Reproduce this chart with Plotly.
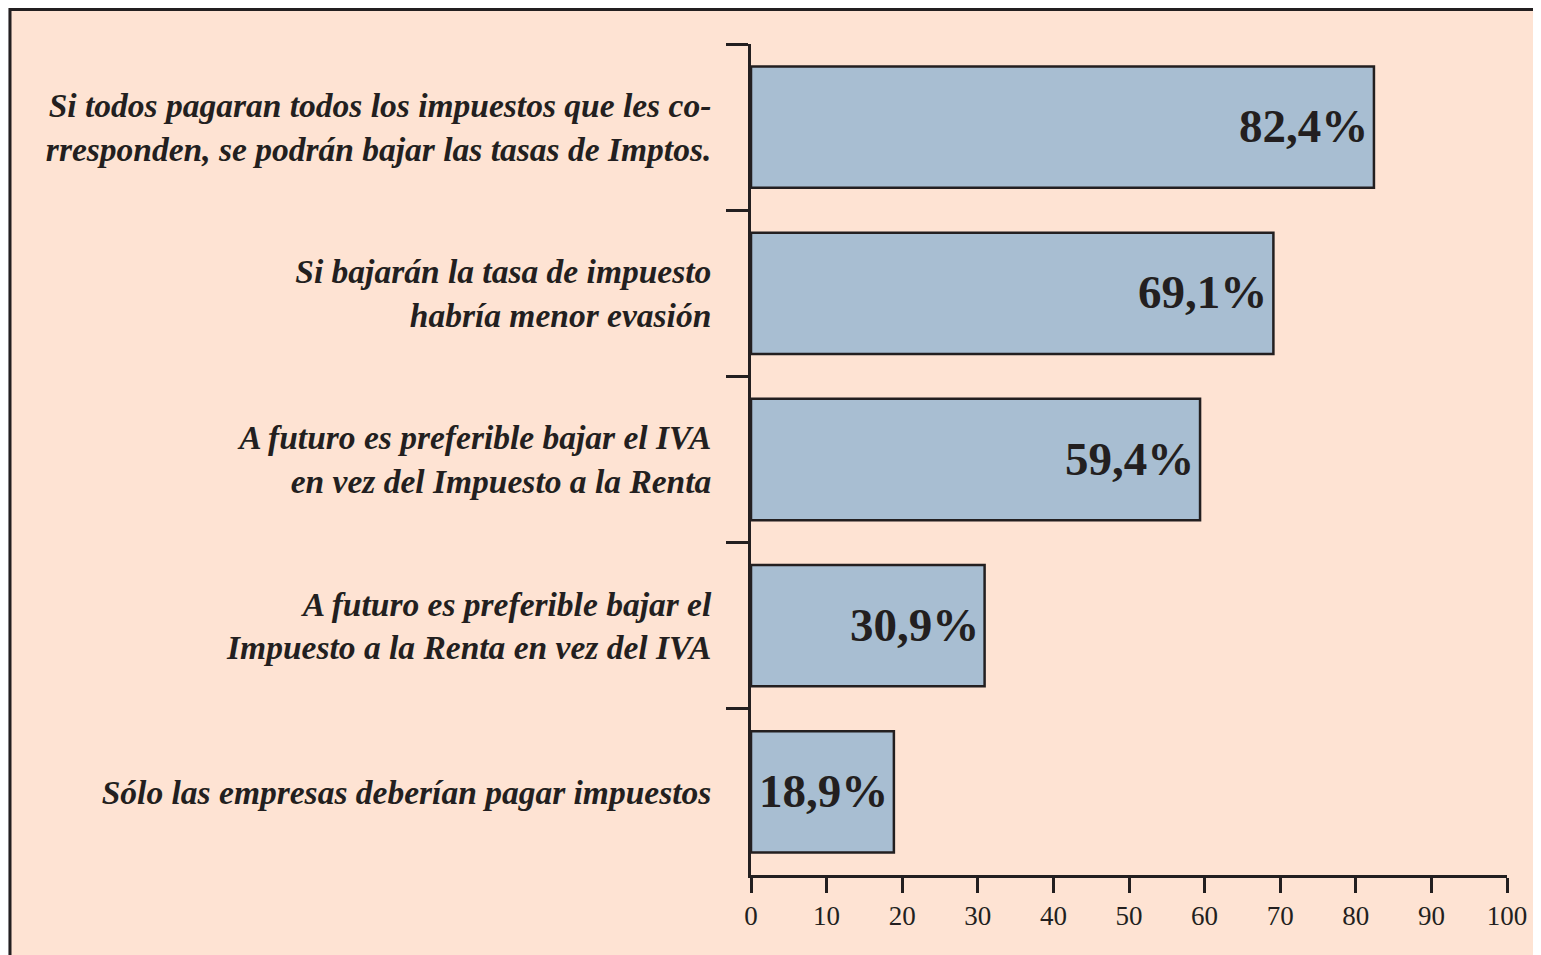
import plotly.graph_objects as go

categories = [
    "Si todos pagaran todos los impuestos que les co-<br>rresponden, se podrán bajar las tasas de Imptos.",
    "Si bajarán la tasa de impuesto<br>habría menor evasión",
    "A futuro es preferible bajar el IVA<br>en vez del Impuesto a la Renta",
    "A futuro es preferible bajar el<br>Impuesto a la Renta en vez del IVA",
    "Sólo las empresas deberían pagar impuestos",
]
values = [82.4, 69.1, 59.4, 30.9, 18.9]
x_ticks = [0, 10, 20, 30, 40, 50, 60, 70, 80, 90, 100]

W, H = 1533, 947
ML, MR, MT, MB = 743, 34, 36, 80
PW, PH = W - ML - MR, H - MT - MB

INK = "#231f20"
PEACH = "#fee3d3"
BAR = "#a8bed2"

def px_x(p):
    return (p - ML) / PW

def px_y(p):
    return (H - MB - p) / PH

labels = [f"{v:.1f}".replace(".", ",") + "%" for v in values]

fig = go.Figure()
fig.add_trace(go.Bar(
    x=values, y=categories, orientation="h",
    marker=dict(color=BAR, line=dict(color=INK, width=2.5)),
    width=0.73, hoverinfo="skip",
))

for c, v, t in zip(categories, values, labels):
    fig.add_annotation(
        x=v, y=c, text=t, showarrow=False, xanchor="right", yanchor="middle",
        xshift=-4, yshift=1,
        font=dict(family="Liberation Serif", size=47, color=INK, weight="bold"),
    )

fig.add_shape(
    type="rect", xref="paper", yref="paper", layer="below",
    x0=px_x(2), x1=px_x(W + 10), y0=px_y(H + 10), y1=px_y(1.5),
    fillcolor=PEACH, line=dict(color=INK, width=3),
)

fig.update_layout(
    width=W, height=H,
    margin=dict(l=ML, r=MR, t=MT, b=MB, pad=0),
    paper_bgcolor="#e6e7e9",
    plot_bgcolor=PEACH,
    showlegend=False,
    xaxis=dict(
        range=[0, 100], tickvals=x_ticks, ticktext=[str(t) for t in x_ticks],
        showgrid=False, zeroline=False, showline=True, linecolor=INK, linewidth=3,
        ticks="outside", ticklen=15, tickwidth=3, tickcolor=INK,
        tickfont=dict(family="Liberation Serif", size=27, color=INK),
        fixedrange=True,
    ),
    yaxis=dict(
        type="category", categoryorder="array", categoryarray=categories,
        range=[4.5, -0.5],
        showgrid=False, zeroline=False, showline=True, linecolor=INK, linewidth=3,
        ticks="outside", ticklen=22, tickwidth=3, tickcolor=INK, tickson="boundaries",
        tickfont=dict(family="Liberation Serif", size=33.5, color=INK, weight="bold", style="italic"),
        ticklabelstandoff=30,
        fixedrange=True,
    ),
)

fig.write_html("out.html")
